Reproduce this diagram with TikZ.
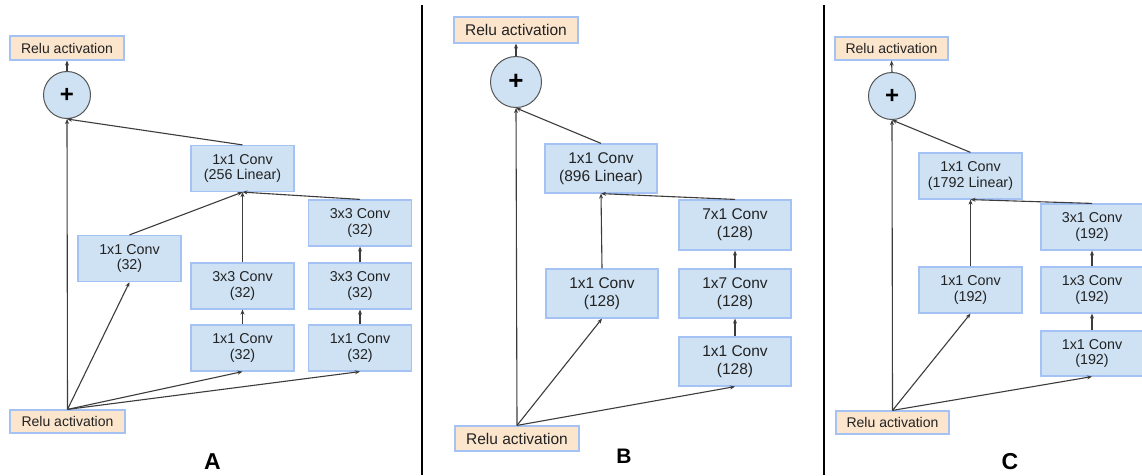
\documentclass[tikz,border=0pt]{standalone}
\usepackage{fontspec}
\setmainfont{Liberation Sans}
\usetikzlibrary{arrows.meta}

\definecolor{convfill}{HTML}{CFE2F3}
\definecolor{convedge}{HTML}{A4C2F4}
\definecolor{relufill}{HTML}{FCE5CD}
\definecolor{wire}{HTML}{3C3C3C}
\definecolor{ink}{HTML}{222222}
\definecolor{ringedge}{HTML}{555555}

\tikzset{
  box/.style={draw=convedge, line width=1.2pt, inner sep=0pt, align=center, text=ink},
  conv/.style={box, fill=convfill, minimum width=103pt, minimum height=46pt,
    font=\fontsize{14.3}{15.7}\selectfont},
  convB/.style={box, fill=convfill, minimum width=112pt, minimum height=49pt,
    font=\fontsize{15.5}{18.3}\selectfont},
  relu/.style={box, fill=relufill, minimum width=114pt, minimum height=24pt,
    font=\fontsize{14}{16}\selectfont},
  reluB/.style={box, fill=relufill, minimum width=124pt, minimum height=26pt,
    font=\fontsize{15.5}{18}\selectfont},
  sumnode/.style={circle, draw=ringedge, fill=convfill, line width=1pt, inner sep=0pt,
    minimum size=47pt, text=black, font=\fontsize{24}{24}\selectfont\bfseries},
  flow/.style={draw=wire, line width=1.1pt, -{Stealth[length=5pt,width=4pt]}},
  divider/.style={draw=black, line width=2pt},
  panellabel/.style={font=\fontsize{23}{23}\selectfont\bfseries, text=black}
}

\begin{document}
\begin{tikzpicture}[x=1pt, y=-1pt]
\useasboundingbox[fill=white] (0,0) rectangle (1142,475);

% separators between the three blocks
\coordinate (sepAtop) at (422,5);
\coordinate (sepAbot) at (422,475);
\coordinate (sepBtop) at (824,5);
\coordinate (sepBbot) at (824,475);
\draw[divider] (sepAtop) -- (sepAbot);
\draw[divider] (sepBtop) -- (sepBbot);

% ---------------- block A ----------------
\node[relu] (reluTopA) at (67,48) {Relu activation};
\node[sumnode] (plusA) at (67,95) {+};
\node[conv] (linA) at (242.5,168.5) {1x1 Conv\\(256 Linear)};
\node[conv] (c3topA) at (360,223) {3x3 Conv\\(32)};
\node[conv] (c1leftA) at (129.5,258.5) {1x1 Conv\\(32)};
\node[conv] (c3midA) at (242.5,286) {3x3 Conv\\(32)};
\node[conv] (c3rA) at (360,286) {3x3 Conv\\(32)};
\node[conv] (c1midA) at (242.5,348) {1x1 Conv\\(32)};
\node[conv] (c1rA) at (360,348) {1x1 Conv\\(32)};
\node[relu, minimum width=115pt, minimum height=23pt] (reluBotA) at (67.5,421.5) {Relu activation};
\node[panellabel] (labA) at (212.5,462) {A};

\draw[flow] (reluBotA.north) -- (plusA.south);
\draw[flow] (reluBotA.north) -- (c1leftA.south);
\draw[flow] (reluBotA.north) -- (c1midA.south);
\draw[flow] (reluBotA.north) -- (c1rA.south);
\draw[flow] (c1midA.north) -- (c3midA.south);
\draw[flow] (c1rA.north) -- (c3rA.south);
\draw[flow] (c3rA.north) -- (c3topA.south);
\draw[flow] (c1leftA.north) -- (linA.south);
\draw[flow] (c3midA.north) -- (linA.south);
\draw[flow] (c3topA.north) -- (linA.south);
\draw[flow] (linA.north) -- (plusA.south);
\draw[flow] (plusA.north) -- (reluTopA.south);

% ---------------- block B ----------------
\node[reluB] (reluTopB) at (516,30) {Relu activation};
\node[sumnode, minimum size=51pt, font=\fontsize{26}{26}\selectfont\bfseries] (plusB) at (516,82) {+};
\node[convB] (linB) at (601,168.5) {1x1 Conv\\(896 Linear)};
\node[convB, minimum height=50pt] (c7B) at (735,225) {7x1 Conv\\(128)};
\node[convB] (c1leftB) at (602,293.5) {1x1 Conv\\(128)};
\node[convB] (c17B) at (735,293.5) {1x7 Conv\\(128)};
\node[convB] (c1rB) at (735,361.5) {1x1 Conv\\(128)};
\node[reluB, minimum height=25pt] (reluBotB) at (517,438.5) {Relu activation};
\node[panellabel, font=\fontsize{21}{21}\selectfont\bfseries] (labB) at (624,456) {B};

\draw[flow] (reluBotB.north) -- (plusB.south);
\draw[flow] (reluBotB.north) -- (c1leftB.south);
\draw[flow] (reluBotB.north) -- (c1rB.south);
\draw[flow] (c1rB.north) -- (c17B.south);
\draw[flow] (c17B.north) -- (c7B.south);
\draw[flow] (c1leftB.north) -- (linB.south);
\draw[flow] (c7B.north) -- (linB.south);
\draw[flow] (linB.north) -- (plusB.south);
\draw[flow] (plusB.north) -- (reluTopB.south);

% ---------------- block C ----------------
\node[relu, minimum width=113pt, minimum height=23pt] (reluTopC) at (891.5,48.5) {Relu activation};
\node[sumnode] (plusC) at (892,96) {+};
\node[conv] (linC) at (970.5,176) {1x1 Conv\\(1792 Linear)};
\node[conv, minimum width=102pt] (c31C) at (1092,227) {3x1 Conv\\(192)};
\node[conv] (c1leftC) at (970.5,290) {1x1 Conv\\(192)};
\node[conv, minimum width=102pt] (c13C) at (1092,290) {1x3 Conv\\(192)};
\node[conv, minimum width=102pt, minimum height=45pt] (c1rC) at (1092,353.5) {1x1 Conv\\(192)};
\node[relu, minimum width=113pt, minimum height=23pt] (reluBotC) at (892.5,422.5) {Relu activation};
\node[panellabel] (labC) at (1010,462) {C};

\draw[flow] (reluBotC.north) -- (plusC.south);
\draw[flow] (reluBotC.north) -- (c1leftC.south);
\draw[flow] (reluBotC.north) -- (c1rC.south);
\draw[flow] (c1rC.north) -- (c13C.south);
\draw[flow] (c13C.north) -- (c31C.south);
\draw[flow] (c1leftC.north) -- (linC.south);
\draw[flow] (c31C.north) -- (linC.south);
\draw[flow] (linC.north) -- (plusC.south);
\draw[flow] (plusC.north) -- (reluTopC.south);
\end{tikzpicture}
\end{document}
